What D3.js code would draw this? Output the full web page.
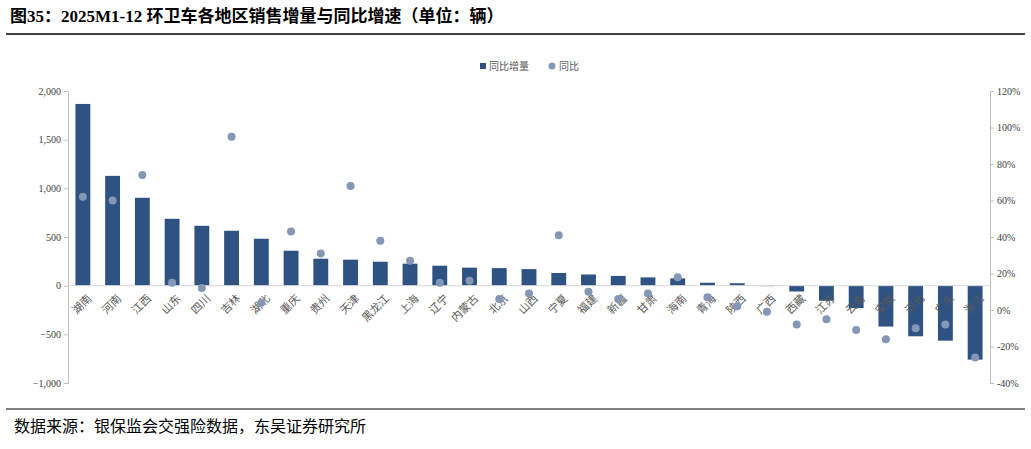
<!DOCTYPE html>
<html><head><meta charset="utf-8">
<script src="https://cdn.jsdelivr.net/npm/d3@7"></script>
<style>body{margin:0;background:#fff;font-family:"Noto Sans CJK SC",sans-serif}</style>
</head><body><svg id="c" width="1031" height="449"></svg>
<script>
const regions = ['湖南','河南','江西','山东','四川','吉林','湖北','重庆','贵州','天津','黑龙江','上海','辽宁','内蒙古','北京','山西','宁夏','福建','新疆','甘肃','海南','青海','陕西','广西','西藏','江苏','云南','安徽','河北','广东','浙江'];
const increase = [1867,1128,903,687,615,564,482,359,277,267,246,226,205,185,180,170,130,115,100,85,75,30,25,-5,-60,-155,-230,-420,-520,-565,-760];
const yoy = [62,60,74,15,12,95,4,43,31,68,38,27,15,16,6,9,41,10,6,9,18,7,2,-1,-8,-5,-11,-16,-10,-8,-26];
const leftTicks = [-1000,-500,0,500,1000,1500,2000];
const rightTicks = [-40,-20,0,20,40,60,80,100,120];

const svg = d3.select('#c');
const m = { l: 68, r: 990, t: 91, b: 383 };

svg.append('text').attr('x', 10).attr('y', 22).attr('font-size', 17).attr('font-weight', 'bold')
  .attr('font-family', '"Liberation Serif","Noto Sans CJK SC"').text('图35：2025M1-12 环卫车各地区销售增量与同比增速（单位：辆）');
svg.append('line').attr('x1', 6).attr('x2', 1025).attr('y1', 34).attr('y2', 34).attr('stroke', '#000').attr('stroke-width', 1.5);
svg.append('line').attr('x1', 6).attr('x2', 1025).attr('y1', 409).attr('y2', 409).attr('stroke', '#000').attr('stroke-width', 1);
svg.append('text').attr('x', 14).attr('y', 432).attr('font-size', 16).text('数据来源：银保监会交强险数据，东吴证券研究所');

const x = d3.scaleBand().domain(regions).range([m.l, m.r]).paddingInner(0.5).paddingOuter(0.25);
const y = d3.scaleLinear().domain([-1000, 2000]).range([m.b, m.t]);
const y2 = d3.scaleLinear().domain([-40, 120]).range([m.b, m.t]);

const gl = svg.append('g').attr('transform', `translate(${m.l},0)`)
  .call(d3.axisLeft(y).tickValues(leftTicks).tickFormat(d3.format(',')).tickSize(4));
gl.select('.domain').attr('stroke', '#bfbfbf');
gl.selectAll('line').attr('stroke', '#bfbfbf');
gl.selectAll('text').attr('font-size', 10).attr('fill', '#404040').attr('font-family', 'Liberation Serif');

const gr = svg.append('g').attr('transform', `translate(${m.r},0)`)
  .call(d3.axisRight(y2).tickValues(rightTicks).tickFormat(d => d + '%').tickSize(4));
gr.select('.domain').attr('stroke', '#bfbfbf');
gr.selectAll('line').attr('stroke', '#bfbfbf');
gr.selectAll('text').attr('font-size', 10).attr('fill', '#404040').attr('font-family', 'Liberation Serif');

svg.append('g').selectAll('rect').data(regions).join('rect')
  .attr('x', d => x(d)).attr('width', x.bandwidth())
  .attr('y', (d, i) => y(Math.max(0, increase[i])))
  .attr('height', (d, i) => Math.abs(y(increase[i]) - y(0)))
  .attr('fill', '#2e5382');

svg.append('line').attr('x1', m.l).attr('x2', m.r).attr('y1', y(0)).attr('y2', y(0)).attr('stroke', '#d9d9d9');

svg.append('g').selectAll('text').data(regions).join('text')
  .attr('transform', d => `translate(${x(d) + x.bandwidth() / 2 + 4},${y(0) + 8}) rotate(-45)`)
  .attr('text-anchor', 'end').attr('dy', '0.7em').attr('font-size', 11).attr('fill', '#595959').text(d => d);

svg.append('g').selectAll('circle').data(regions).join('circle')
  .attr('cx', d => x(d) + x.bandwidth() / 2).attr('cy', (d, i) => y2(yoy[i]))
  .attr('r', 4).attr('fill', '#8497b5');

const lg = svg.append('g').attr('transform', 'translate(480,66)').attr('font-size', 10).attr('fill', '#595959');
lg.append('rect').attr('x', 0).attr('y', -3).attr('width', 6).attr('height', 6).attr('fill', '#2e5382');
lg.append('text').attr('x', 9).attr('y', 4).text('同比增量');
lg.append('circle').attr('cx', 72).attr('cy', 0).attr('r', 3.5).attr('fill', '#8497b5');
lg.append('text').attr('x', 79).attr('y', 4).text('同比');
</script></body></html>
